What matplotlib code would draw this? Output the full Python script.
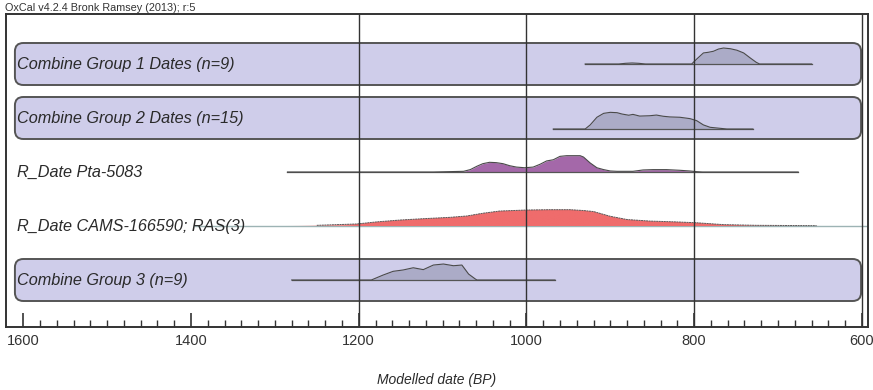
import numpy as np
import matplotlib
matplotlib.use("Agg")
import matplotlib.pyplot as plt
from matplotlib.patches import FancyBboxPatch

# ---------------- data ----------------
labels = ["Combine Group 1 Dates (n=9)", "Combine Group 2 Dates (n=15)",
          "R_Date Pta-5083", "R_Date CAMS-166590; RAS(3)", "Combine Group 3 (n=9)"]
is_combine = [True, True, False, False, True]

g1_dates = [930, 890, 882, 874, 866, 858, 803, 797, 789, 783, 777, 771, 765, 757, 749, 741, 733, 726, 722, 660]
g1_prob  = [0, 0, 0.04, 0.06, 0.04, 0, 0, 0.29, 0.65, 0.69, 0.75, 0.88, 0.94, 0.90, 0.81, 0.65, 0.35, 0.10, 0, 0]

g2_dates = [968, 930, 924, 916, 908, 900, 892, 886, 878, 873, 865, 853, 845, 837, 829, 817, 805, 797, 789, 781, 765, 761, 730]
g2_prob  = [0, 0, 0.24, 0.69, 0.92, 0.98, 0.96, 0.88, 0.81, 0.86, 0.76, 0.78, 0.82, 0.75, 0.71, 0.69, 0.61, 0.49, 0.24, 0.10, 0.02, 0, 0]

pta_dates = [1285, 1111, 1075, 1067, 1059, 1052, 1044, 1036, 1028, 1020, 1012, 1002, 992, 984, 976, 968,
             960, 952, 936, 932, 924, 916, 908, 900, 892, 873, 861, 849, 833, 817, 805, 797, 790, 676]
pta_prob  = [0, 0, 0.04, 0.14, 0.34, 0.49, 0.57, 0.55, 0.49, 0.37, 0.29, 0.25, 0.29, 0.45, 0.65, 0.72,
             0.92, 0.96, 0.96, 0.88, 0.53, 0.25, 0.14, 0.06, 0.04, 0.04, 0.12, 0.14, 0.14, 0.10, 0.06, 0.02, 0, 0]

cams_dates = [1290, 1250, 1202, 1179, 1151, 1123, 1091, 1071, 1052, 1032, 1000, 972, 948, 932, 920,
              900, 880, 853, 821, 797, 765, 726, 654, 647]
cams_prob  = [0, 0.04, 0.12, 0.24, 0.35, 0.43, 0.51, 0.59, 0.75, 0.88, 0.94, 0.96, 0.96, 0.91, 0.85,
              0.57, 0.38, 0.29, 0.24, 0.19, 0.08, 0.04, 0.02, 0]
cams_range = [1395, 593]

g3_dates = [1280, 1185, 1171, 1159, 1147, 1135, 1123, 1111, 1099, 1087, 1077, 1069, 1061, 1059, 966]
g3_prob  = [0, 0, 0.29, 0.51, 0.59, 0.72, 0.61, 0.88, 0.94, 0.84, 0.88, 0.35, 0.06, 0, 0]

major_ticks = [1600, 1400, 1200, 1000, 800, 600]
grid_dates = [1200, 1000, 800, 600]

# ---------------- layout / style ----------------
W, H = 873, 390
fig = plt.figure(figsize=(W / 100, H / 100), dpi=100)
ax_l, ax_r, ax_t, ax_b = 6, 867.5, 14, 327
ax = fig.add_axes([ax_l / W, (H - ax_b) / H, (ax_r - ax_l) / W, (ax_b - ax_t) / H])

px_per_year = 0.8386
x0_px = 23.3
xlim = (1600 + (x0_px - ax_l) / px_per_year, 1600 - (ax_r - x0_px) / px_per_year)
row_px = 54.0
row0_px = 64.0
ylim = ((ax_b - row0_px) / row_px, -(row0_px - ax_t) / row_px)
ax.set_xlim(*xlim)
ax.set_ylim(*ylim)

hscale = 17 / row_px      # prob 1.0 -> 17 px
base_off = [0, 11 / row_px, 0, 0, 0]
box_half = 21 / row_px
box_x = (1610, 601)

box_fc = "#cfcdea"
box_ec = "#555555"
comb_fc = "#ababc7"
pta_fc = "#a468a9"
cams_fc = "#ef6c6c"
edge = "#4a4a4a"
txt = "#2a2a2a"

aspect = (1 / row_px) / (1 / px_per_year)

for i, comb in enumerate(is_combine):
    if comb:
        bp = FancyBboxPatch((box_x[1], i - box_half), box_x[0] - box_x[1], 2 * box_half,
                            boxstyle="round,pad=0,rounding_size=10", mutation_aspect=aspect,
                            fc=box_fc, ec=box_ec, lw=1.4, zorder=1)
        ax.add_patch(bp)
    ax.text(1607, i, labels[i], ha="left", va="center", fontsize=11.7, style="italic",
            family="Liberation Sans", color=txt, zorder=6)


def draw_dist(row, dates, prob, fc):
    b = row + base_off[row]
    d = np.asarray(dates, float)
    p = np.asarray(prob, float)
    ax.plot([d[0], d[-1]], [b, b], color="#555555", lw=0.9, zorder=3)
    ax.fill_between(d, b, b - p * hscale, color=fc, lw=0, zorder=2)
    ax.plot(d, b - p * hscale, color=edge, lw=0.8, zorder=3)


draw_dist(0, g1_dates, g1_prob, comb_fc)
draw_dist(1, g2_dates, g2_prob, comb_fc)
draw_dist(2, pta_dates, pta_prob, pta_fc)
draw_dist(4, g3_dates, g3_prob, comb_fc)

# CAMS with faded tails
b = 3
d = np.asarray(cams_dates, float)
p = np.asarray(cams_prob, float)
ax.plot(cams_range, [b, b], color="#9db3b4", lw=1.0, zorder=2)
poly = ax.fill_between(d, b, b - p * hscale, color="none", lw=0, zorder=2)
xs = np.linspace(d[0], d[-1], 400)
alpha = np.clip(np.minimum((d[0] - xs) / 90.0, (xs - d[-1]) / 110.0), 0, 1)
rgba = np.zeros((1, xs.size, 4))
rgba[..., :3] = matplotlib.colors.to_rgb(cams_fc)
rgba[..., 3] = alpha
im = ax.imshow(rgba, extent=[d[0], d[-1], b, b - hscale * 1.05], aspect="auto",
               interpolation="bilinear", zorder=2.5)
im.set_clip_path(poly.get_paths()[0], transform=ax.transData)
ax.plot(d[1:-1], (b - p * hscale)[1:-1], color="#5a5a5a", lw=0.7, ls=(0, (2, 0.6)), zorder=3)
ax.set_xlim(*xlim)
ax.set_ylim(*ylim)

for g in grid_dates:
    ax.axvline(g, color="#333333", lw=1.0, zorder=5)

# axes / ticks
for s in ax.spines.values():
    s.set_linewidth(1.4)
    s.set_color("#333333")
ax.set_yticks([])
ax.set_xticks(major_ticks)
ax.set_xticks(np.arange(600, 1601, 20), minor=True)
ax.tick_params(axis="x", which="major", direction="in", length=10, width=1.2, colors="#333333",
               labelsize=10.5, pad=5, labelcolor="#333333")
ax.tick_params(axis="x", which="minor", direction="in", length=5, width=1.0, colors="#333333")
for lbl in ax.get_xticklabels():
    lbl.set_family("Liberation Sans")

fig.text((ax_l + ax_r) / 2 / W, 1 - 380 / H, "Modelled date (BP)", ha="center", va="center",
         fontsize=10, style="italic", family="Liberation Sans", color=txt)
fig.text(5 / W, 1 - 8 / H, "OxCal v4.2.4 Bronk Ramsey (2013); r:5", ha="left", va="center",
         fontsize=7.8, family="Liberation Sans", color="#333333")

fig.savefig("out.png", dpi=100)
